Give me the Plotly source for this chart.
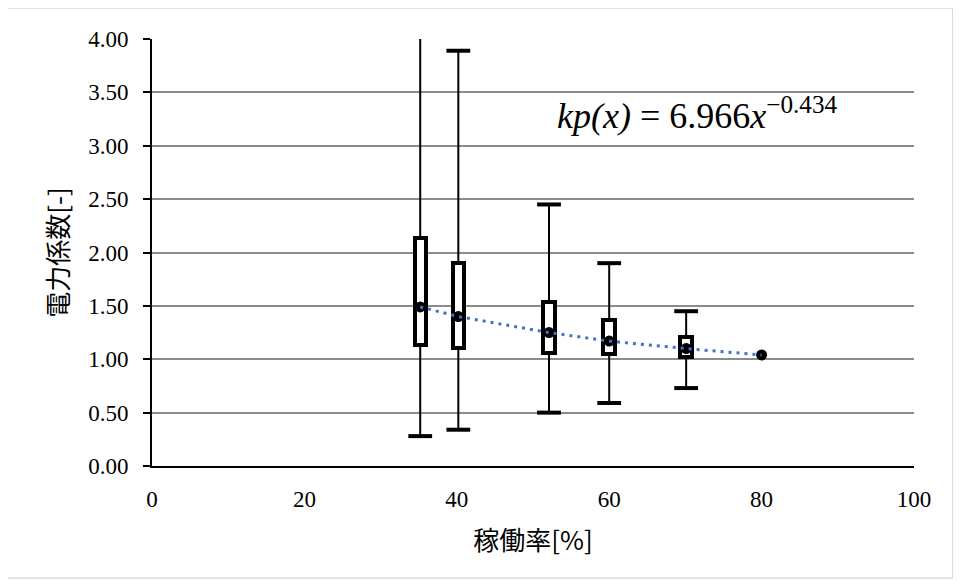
import plotly.graph_objects as go

# ---- data ----
x_pos = [35.2, 40.2, 52.1, 60.0, 70.1]
q1 = [1.13, 1.11, 1.06, 1.05, 1.02]
q3 = [2.14, 1.90, 1.54, 1.37, 1.21]
med = [1.49, 1.40, 1.25, 1.17, 1.10]
wmin = [0.28, 0.34, 0.50, 0.59, 0.73]
wmax = [4.30, 3.89, 2.45, 1.90, 1.45]

pt_x = [35.2, 40.2, 52.1, 60.0, 70.1, 80.0]
pt_y = [1.49, 1.40, 1.25, 1.17, 1.10, 1.04]

y_ticks = [0, 0.5, 1.0, 1.5, 2.0, 2.5, 3.0, 3.5, 4.0]
x_ticks = [0, 20, 40, 60, 80, 100]

SERIF = "serif"
CJK = "Noto Sans CJK JP"

fig = go.Figure()

# boxes (q1..q3)
fig.add_trace(go.Bar(
    x=x_pos, y=[b - a for a, b in zip(q1, q3)], base=q1, width=1.5,
    marker=dict(color="white", line=dict(color="black", width=4)),
    showlegend=False, hoverinfo="skip"))

# whiskers
wx, wy = [], []
for x, lo, a, b, hi in zip(x_pos, wmin, q1, q3, wmax):
    wx += [x, x, None, x, x, None]
    wy += [lo, a, None, b, hi, None]
fig.add_trace(go.Scatter(x=wx, y=wy, mode="lines",
                         line=dict(color="black", width=2),
                         showlegend=False, hoverinfo="skip"))
# caps
fig.add_trace(go.Scatter(x=x_pos + x_pos, y=wmin + wmax, mode="markers",
                         marker=dict(symbol="line-ew", size=17,
                                     line=dict(color="black", width=4)),
                         showlegend=False, hoverinfo="skip"))

# points (medians and end point)
fig.add_trace(go.Scatter(x=pt_x, y=pt_y, mode="markers",
                         marker=dict(symbol="circle", size=11, color="black"),
                         showlegend=False))

# trend line
fig.add_trace(go.Scatter(x=pt_x, y=pt_y, mode="lines",
                         line=dict(color="#4472C4", width=3, dash="3px,5px"),
                         showlegend=False, hoverinfo="skip"))

fig.add_annotation(x=52.9, y=3.30, xref="x", yref="y", xanchor="left",
                   yanchor="middle", showarrow=False,
                   text="<i>kp(x)</i> = 6.966<i>x</i><sup>−0.434</sup>",
                   font=dict(family=SERIF, size=36, color="black"))

# outer border
fig.add_shape(type="rect", xref="paper", yref="paper",
              x0=-0.190, x1=1.051, y0=-0.2623, y1=1.0726,
              line=dict(color="#d9d9d9", width=1.5), layer="below")

fig.update_layout(
    width=961, height=586,
    margin=dict(l=144, r=55, t=31, b=128),
    paper_bgcolor="white", plot_bgcolor="white",
    bargap=0,
    xaxis=dict(range=[0, 100], tickvals=x_ticks, ticktext=[str(v) for v in x_ticks],
               showgrid=False, zeroline=False, showline=True, automargin=False,
               linecolor="black", linewidth=2, ticks="", ticklabelstandoff=11,
               tickfont=dict(family=SERIF, size=23, color="black"),
               title=dict(text="稼働率[%]", font=dict(family=CJK, size=26, color="black"),
                          standoff=21)),
    yaxis=dict(range=[0, 4], tickvals=y_ticks,
               ticktext=[f"{v:.2f}" for v in y_ticks], automargin=False,
               showgrid=True, gridcolor="#8c8c8c", gridwidth=1.5,
               zeroline=False, showline=True, linecolor="black", linewidth=2,
               ticks="outside", ticklen=7, tickcolor="black", tickwidth=2,
               ticklabelstandoff=10,
               tickfont=dict(family=SERIF, size=23, color="black"),
               title=dict(text="電力係数[-]", font=dict(family=CJK, size=26, color="black"),
                          standoff=12)),
)

fig.write_html("out.html")
